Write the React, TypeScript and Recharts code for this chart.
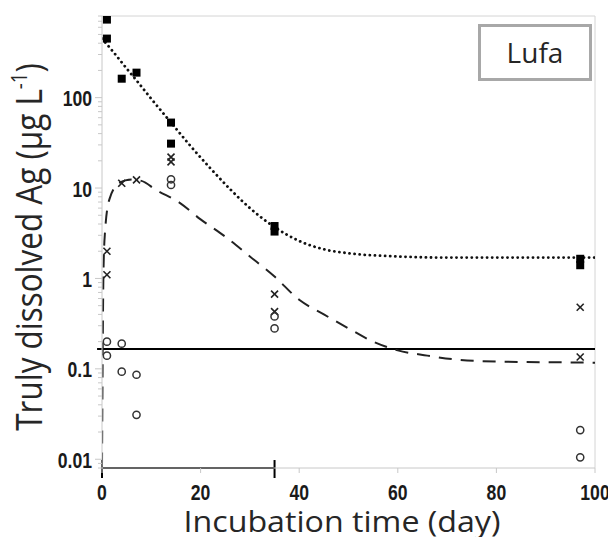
import React from 'react';
import { ComposedChart, Line, Scatter, XAxis, YAxis, ReferenceLine } from 'recharts';

// measured points, day vs truly dissolved Ag (µg/L)
const SQUARE_DAYS = [1, 1, 4, 7, 14, 14, 35, 35, 97, 97];
const SQUARE_VALUES = [730, 450, 162, 189, 53, 31, 3.8, 3.3, 1.65, 1.4];

const CROSS_DAYS = [1, 1, 4, 7, 14, 14, 35, 35, 97, 97];
const CROSS_VALUES = [2.0, 1.1, 11.3, 12.3, 22, 19.5, 0.67, 0.43, 0.48, 0.135];

const CIRCLE_DAYS = [1, 1, 4, 4, 7, 7, 14, 14, 35, 35, 97, 97];
const CIRCLE_VALUES = [0.2, 0.14, 0.19, 0.093, 0.086, 0.031, 12.5, 10.8, 0.38, 0.28, 0.021, 0.0105];

// fitted curves
const DOTTED_DAYS = [0, 2, 5, 7, 10, 14, 18, 22, 26, 30, 35, 40, 45, 50, 60, 70, 80, 90, 100];
const DOTTED_VALUES = [450, 335, 210, 155, 97, 53, 29, 16.5, 9.7, 6, 3.7, 2.6, 2.1, 1.9, 1.75, 1.7, 1.7, 1.7, 1.7];

const DASHED_DAYS = [0, 0.3, 0.6, 1.5, 3.5, 6, 8, 11, 15.7, 20, 25, 30, 35, 40, 45, 50, 55, 60, 66, 71, 81, 94, 100];
const DASHED_VALUES = [0.0085, 1.2, 3.2, 7.5, 11.3, 12.4, 12, 9.5, 6.9, 4.5, 2.9, 1.75, 1.05, 0.58, 0.4, 0.28, 0.2, 0.16, 0.14, 0.128, 0.12, 0.118, 0.117];

const THRESHOLD = 0.166;
const BRACKET_DAYS = [0, 35];

const X_TICKS = [0, 20, 40, 60, 80, 100];
const Y_MAJOR = [0.01, 0.1, 1, 10, 100];
const Y_DOMAIN = [0.008, 800];

const zip = (xs: number[], ys: number[]) => xs.map((x, i) => ({ x, y: ys[i] }));

const squares = zip(SQUARE_DAYS, SQUARE_VALUES);
const crosses = zip(CROSS_DAYS, CROSS_VALUES);
const circles = zip(CIRCLE_DAYS, CIRCLE_VALUES);
const dotted = zip(DOTTED_DAYS, DOTTED_VALUES);
const dashed = zip(DASHED_DAYS, DASHED_VALUES);

// major + minor log ticks
const yTicks: number[] = [];
[0.001, 0.01, 0.1, 1, 10, 100].forEach(dec => {
    for (let m = 1; m <= 9; m++) {
        const v = parseFloat((dec * m).toPrecision(3));
        if (v >= Y_DOMAIN[0] && v <= Y_DOMAIN[1]) yTicks.push(v);
    }
});

// no Arial Narrow here, so squeeze Liberation Sans bold
const TICK_FONT = '"Liberation Sans", Arial, sans-serif';
const TITLE_FONT = '"Open Sans", "Noto Sans", sans-serif';
const AXIS_GREY = '#c8c8c8';

const Square = (p: any) => <rect x={p.cx - 4} y={p.cy - 4} width={8} height={8} fill="#000" />;
const Cross = (p: any) => (
    <g stroke="#222" strokeWidth={1.6}>
        <line x1={p.cx - 3.5} y1={p.cy - 3.5} x2={p.cx + 3.5} y2={p.cy + 3.5} />
        <line x1={p.cx - 3.5} y1={p.cy + 3.5} x2={p.cx + 3.5} y2={p.cy - 3.5} />
    </g>
);
const Ring = (p: any) => <circle cx={p.cx} cy={p.cy} r={3.6} fill="none" stroke="#333" strokeWidth={1.5} />;

const XTick = (p: any) => (
    <text transform={`translate(${p.x},${p.y + 27}) scale(0.8,1)`} textAnchor="middle" fontFamily={TICK_FONT}
        fontWeight="bold" fontSize={22} fill="#1a1a1a">
        {p.payload.value}
    </text>
);

const YTick = (p: any) => {
    const v = p.payload.value;
    const major = Y_MAJOR.includes(v);
    return (
        <g>
            <line x1={p.x - (major ? 7 : 4)} x2={p.x} y1={p.y} y2={p.y} stroke={AXIS_GREY} />
            {major && (
                <text transform={`translate(${p.x - 10},${p.y + 8.5}) scale(0.8,1)`} textAnchor="end" fontFamily={TICK_FONT}
                    fontWeight="bold" fontSize={22} fill="#1a1a1a">
                    {String(v)}
                </text>
            )}
        </g>
    );
};

const XTitle = () => (
    <text transform="translate(342,532) scale(1.11,1)" textAnchor="middle" fontFamily={TITLE_FONT} fontSize={29} fill="#262626">
        Incubation time (day)
    </text>
);

const YTitle = () => (
    <text transform="translate(42,247) rotate(-90) scale(0.85,1)" textAnchor="middle" fontFamily={TITLE_FONT} fontSize={37} fill="#262626">
        Truly dissolved Ag (µg L<tspan fontSize={22} dy={-15}>-1</tspan><tspan dy={15}>)</tspan>
    </text>
);

export default function App() {
    return (
        <div style={{ position: 'relative', width: 608, height: 537, background: '#fff' }}>
            <style>{'body{margin:0}'}</style>
            <ComposedChart width={608} height={537} margin={{ top: 16, right: 13, left: 0, bottom: 0 }}>
                <XAxis
                    dataKey="x"
                    type="number"
                    domain={[0, 100]}
                    ticks={X_TICKS}
                    interval={0}
                    height={69}
                    tickSize={5}
                    tickMargin={0}
                    axisLine={{ stroke: AXIS_GREY }}
                    tickLine={{ stroke: AXIS_GREY }}
                    tick={XTick}
                    label={XTitle}
                    allowDataOverflow
                />
                <YAxis
                    dataKey="y"
                    type="number"
                    scale="log"
                    domain={Y_DOMAIN}
                    ticks={yTicks}
                    interval={0}
                    width={102}
                    tickSize={0}
                    tickMargin={0}
                    tickLine={false}
                    axisLine={{ stroke: AXIS_GREY }}
                    tick={YTick}
                    label={YTitle}
                    allowDataOverflow
                />
                <ReferenceLine x={100} stroke="#d4d4d4" />
                <ReferenceLine y={Y_DOMAIN[1]} stroke="#d4d4d4" />
                <ReferenceLine
                    segment={[{ x: -1, y: THRESHOLD }, { x: 100, y: THRESHOLD }]}
                    stroke="#000"
                    strokeWidth={2}
                    ifOverflow="visible"
                />
                <ReferenceLine
                    segment={[{ x: BRACKET_DAYS[0], y: Y_DOMAIN[0] }, { x: BRACKET_DAYS[1], y: Y_DOMAIN[0] }]}
                    stroke="#000"
                    strokeWidth={2}
                    ifOverflow="visible"
                />
                {BRACKET_DAYS.map(d => (
                    <ReferenceLine
                        key={d}
                        segment={[{ x: d, y: 0.0098 }, { x: d, y: 0.0062 }]}
                        stroke="#000"
                        strokeWidth={2}
                        ifOverflow="visible"
                    />
                ))}
                <Line data={dotted} dataKey="y" type="monotone" stroke="#111" strokeWidth={2.8}
                    strokeDasharray="0.1 5" strokeLinecap="round" dot={false} isAnimationActive={false} />
                <Line data={dashed} dataKey="y" type="monotone" stroke="#222" strokeWidth={2}
                    strokeDasharray="13 9" dot={false} isAnimationActive={false} />
                <Scatter data={squares} shape={Square} isAnimationActive={false} />
                <Scatter data={crosses} shape={Cross} isAnimationActive={false} />
                <Scatter data={circles} shape={Ring} isAnimationActive={false} />
            </ComposedChart>
            <div
                style={{
                    position: 'absolute', left: 478, top: 24, width: 114, height: 57, boxSizing: 'border-box',
                    border: '3px solid #a8a8a8', display: 'flex', alignItems: 'center', justifyContent: 'center',
                    fontFamily: TITLE_FONT, fontSize: 28, color: '#262626', paddingBottom: 2,
                }}
            >
                Lufa
            </div>
        </div>
    );
}
